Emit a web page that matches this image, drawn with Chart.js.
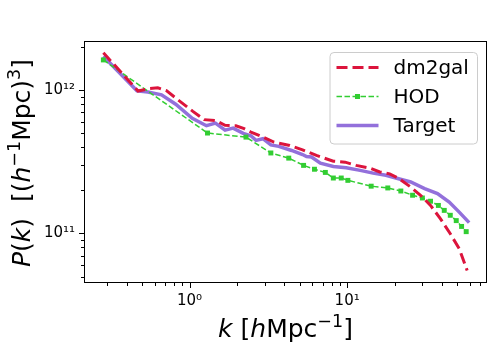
<!DOCTYPE html>
<html>
<head>
<meta charset="utf-8">
<script src="https://cdn.jsdelivr.net/npm/chart.js@4.4.0/dist/chart.umd.min.js"></script>
<style>
  html, body { margin: 0; padding: 0; background: #fff; }
  canvas { display: block; }
</style>
</head>
<body>
<canvas id="pk" width="496" height="352"></canvas>
<script>
var seriesNames = ['dm2gal', 'HOD', 'Target'];

var dm2galK = [0.284, 0.471, 0.560, 0.629, 0.713, 0.853, 1.05, 1.24, 1.47, 1.68, 1.97, 2.22, 2.45, 2.92, 3.43, 4.32,
    5.21, 6.38, 8.17, 9.71, 11.4, 14.0, 16.1, 18.6, 21.2, 25.3, 29.2, 33.8, 39.0, 45.1, 51.4, 57.7];
var dm2galP = [1.83e12, 9.89e11, 1.03e12, 1.04e12, 9.94e11, 8.51e11, 7.13e11, 6.24e11, 6.14e11, 5.69e11, 5.65e11,
    5.40e11, 5.11e11, 4.71e11, 4.35e11, 4.12e11, 3.84e11, 3.51e11, 3.20e11, 3.15e11, 2.99e11, 2.86e11, 2.69e11,
    2.61e11, 2.43e11, 2.11e11, 1.85e11, 1.57e11, 1.27e11, 9.95e10, 7.82e10, 5.51e10];

var hodK = [0.284, 1.30, 2.28, 3.28, 4.26, 5.29, 6.20, 7.27, 8.17, 9.17, 10.1, 14.2, 18.1, 21.9, 26.0, 30.0, 33.8,
    37.9, 41.3, 45.1, 49.2, 53.2, 56.9];
var hodP = [1.63e12, 5.03e11, 4.71e11, 3.65e11, 3.36e11, 2.99e11, 2.81e11, 2.67e11, 2.44e11, 2.44e11, 2.35e11,
    2.14e11, 2.08e11, 1.98e11, 1.85e11, 1.77e11, 1.68e11, 1.57e11, 1.45e11, 1.34e11, 1.23e11, 1.12e11, 1.03e11];

var targetK = [0.284, 0.464, 0.544, 0.664, 0.817, 1.04, 1.28, 1.46, 1.68, 1.89, 2.19, 2.45, 2.64, 2.92, 3.28, 3.68,
    4.44, 5.21, 5.52, 5.94, 6.76, 8.17, 9.86, 12.1, 14.6, 17.6, 20.9, 25.3, 31.0, 37.4, 44.4, 51.4, 59.4];
var targetP = [1.73e12, 9.92e11, 9.73e11, 9.29e11, 7.99e11, 6.37e11, 5.66e11, 5.90e11, 5.27e11, 5.44e11, 5.00e11,
    4.81e11, 4.47e11, 4.59e11, 4.16e11, 4.06e11, 3.80e11, 3.56e11, 3.45e11, 3.42e11, 3.10e11, 2.94e11, 2.88e11,
    2.76e11, 2.64e11, 2.55e11, 2.42e11, 2.29e11, 2.06e11, 1.90e11, 1.66e11, 1.41e11, 1.19e11];

var xTickValues = [1, 10];
var xTickLabels = ['10⁰', '10¹'];
var yTickValues = [1e11, 1e12];
var yTickLabels = ['10¹¹', '10¹²'];

var FONT = '"DejaVu Sans", sans-serif';

function toPoints(xs, ys) {
    var pts = [];
    for (let i = 0; i < xs.length; i++) {
        pts.push({x: xs[i], y: ys[i]});
    }
    return pts;
}

function labelFor(value, values, labels) {
    for (let i = 0; i < values.length; i++) {
        if (Math.abs(value / values[i] - 1) < 1e-6) return labels[i];
    }
    return '';
}

function isNice(v) {
    var e = Math.floor(Math.log10(v) + 1e-9);
    var s = v / Math.pow(10, e);
    return Math.abs(s - Math.round(s)) < 1e-6;
}

function isDecade(v) {
    var l = Math.log10(v);
    return Math.abs(l - Math.round(l)) < 1e-6;
}

// draws text made of runs: italic parts and superscripts
function drawRuns(ctx, runs, cx, cy, size) {
    var total = 0;
    runs.forEach(r => {
        ctx.font = (r.it ? 'italic ' : '') + (r.sup ? size * 0.7 : size) + 'px ' + FONT;
        r.w = ctx.measureText(r.t).width;
        total += r.w;
    });
    var x = cx - total / 2;
    runs.forEach(r => {
        ctx.font = (r.it ? 'italic ' : '') + (r.sup ? size * 0.7 : size) + 'px ' + FONT;
        ctx.fillText(r.t, x, cy - (r.sup ? size * 0.42 : 0));
        x += r.w;
    });
}

var framePlugin = {
    id: 'frame',
    afterDraw(chart) {
        var ctx = chart.ctx, ca = chart.chartArea;
        ctx.save();
        ctx.strokeStyle = '#000';
        ctx.lineWidth = 1;
        ctx.strokeRect(Math.round(ca.left) + 0.5, Math.round(ca.top) + 0.5,
            Math.round(ca.right - ca.left) - 1, Math.round(ca.bottom - ca.top) - 1);

        var xs = chart.scales.x, ys = chart.scales.y;
        ctx.beginPath();
        xs.ticks.forEach(t => {
            if (!isNice(t.value) || t.value < xs.min || t.value > xs.max) return;
            var px = Math.round(xs.getPixelForValue(t.value)) + 0.5;
            var len = isDecade(t.value) ? 5 : 3;
            ctx.moveTo(px, ca.bottom);
            ctx.lineTo(px, ca.bottom + len);
        });
        ys.ticks.forEach(t => {
            if (!isNice(t.value) || t.value < ys.min || t.value > ys.max) return;
            var py = Math.round(ys.getPixelForValue(t.value)) + 0.5;
            var len = isDecade(t.value) ? 5 : 3;
            ctx.moveTo(ca.left, py);
            ctx.lineTo(ca.left - len, py);
        });
        ctx.stroke();

        // axis titles
        ctx.fillStyle = '#000';
        ctx.textBaseline = 'alphabetic';
        drawRuns(ctx, [
            {t: 'k', it: true}, {t: ' ['}, {t: 'h', it: true}, {t: 'Mpc'}, {t: '−1', sup: true}, {t: ']'}
        ], (ca.left + ca.right) / 2, 337, 25);

        ctx.translate(30, 163);
        ctx.rotate(-Math.PI / 2);
        drawRuns(ctx, [
            {t: 'P', it: true}, {t: '('}, {t: 'k', it: true}, {t: ')  [('}, {t: 'h', it: true},
            {t: '−1', sup: true}, {t: 'Mpc)'}, {t: '3', sup: true}, {t: ']'}
        ], 0, 0, 25);
        ctx.restore();
    }
};

var legendPlugin = {
    id: 'boxLegend',
    afterDraw(chart) {
        var ctx = chart.ctx, ca = chart.chartArea;
        var w = 147.5, h = 91.5;
        var right = ca.right - 10, top = ca.top + 11;
        var left = right - w;
        ctx.save();
        ctx.beginPath();
        ctx.roundRect(left + 0.5, top + 0.5, w, h, 4);
        ctx.fillStyle = 'rgba(255,255,255,0.8)';
        ctx.fill();
        ctx.strokeStyle = '#cccccc';
        ctx.lineWidth = 1;
        ctx.stroke();

        chart.data.datasets.forEach((ds, i) => {
            var y = top + 15.5 + i * 29;
            ctx.beginPath();
            ctx.setLineDash(ds.borderDash || []);
            ctx.lineCap = 'butt';
            ctx.strokeStyle = ds.borderColor;
            ctx.lineWidth = ds.borderWidth;
            ctx.moveTo(left + 7, y);
            ctx.lineTo(left + 49, y);
            ctx.stroke();
            ctx.setLineDash([]);
            if (ds.pointRadius > 0) {
                ctx.fillStyle = ds.pointBackgroundColor;
                ctx.fillRect(left + 28 - 2.5, y - 2.5, 5, 5);
            }
            ctx.fillStyle = '#000';
            ctx.font = '20px ' + FONT;
            ctx.textBaseline = 'middle';
            ctx.fillText(ds.label, left + 64, y + 1);
        });
        ctx.restore();
    }
};

new Chart(document.getElementById('pk'), {
    type: 'line',
    data: {
        datasets: [{
            label: seriesNames[0],
            data: toPoints(dm2galK, dm2galP),
            borderColor: '#DC143C',
            borderWidth: 3,
            borderDash: [11, 5],
            pointRadius: 0,
            order: 0
        }, {
            label: seriesNames[1],
            data: toPoints(hodK, hodP),
            borderColor: '#32CD32',
            borderWidth: 1.5,
            borderDash: [5.5, 2.5],
            pointStyle: 'rect',
            pointRadius: 3.5,
            pointBorderWidth: 0,
            pointBackgroundColor: '#32CD32',
            order: 1
        }, {
            label: seriesNames[2],
            data: toPoints(targetK, targetP),
            borderColor: '#9370DB',
            borderWidth: 3.5,
            pointRadius: 0,
            order: 2
        }]
    },
    options: {
        responsive: false,
        animation: false,
        devicePixelRatio: 1,
        layout: {padding: {top: 41, right: 6, left: 0, bottom: 0}},
        plugins: {legend: {display: false}, tooltip: {enabled: false}},
        elements: {line: {tension: 0}},
        scales: {
            x: {
                type: 'logarithmic',
                min: 0.214,
                max: 77.1,
                grid: {display: false, drawTicks: false},
                border: {display: false},
                ticks: {
                    autoSkip: false,
                    maxRotation: 0,
                    padding: 9,
                    color: '#000',
                    font: {family: FONT, size: 15},
                    callback: v => labelFor(v, xTickValues, xTickLabels)
                },
                afterFit: scale => { scale.height = 69; }
            },
            y: {
                type: 'logarithmic',
                min: 4.51e10,
                max: 2.21e12,
                grid: {display: false, drawTicks: false},
                border: {display: false},
                ticks: {
                    autoSkip: false,
                    padding: 9,
                    color: '#000',
                    font: {family: FONT, size: 15},
                    callback: v => labelFor(v, yTickValues, yTickLabels)
                },
                afterFit: scale => { scale.width = 84; }
            }
        }
    },
    plugins: [framePlugin, legendPlugin]
});
</script>
</body>
</html>
